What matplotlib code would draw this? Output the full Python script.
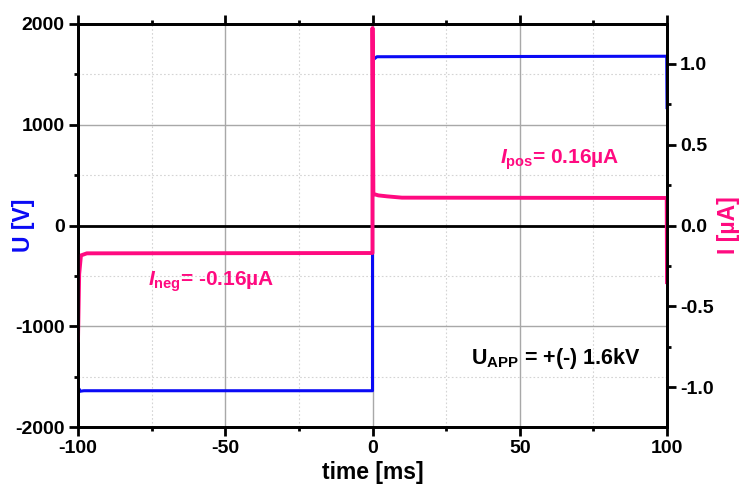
import matplotlib
matplotlib.use("Agg")
import matplotlib.pyplot as plt
from matplotlib.ticker import MultipleLocator

plt.rcParams['font.family'] = ['Liberation Sans', 'DejaVu Sans']
plt.rcParams['font.weight'] = 'bold'
plt.rcParams['axes.unicode_minus'] = False
plt.rcParams['mathtext.fontset'] = 'custom'
plt.rcParams['mathtext.rm'] = 'Liberation Sans:bold'
plt.rcParams['mathtext.bf'] = 'Liberation Sans:bold'
plt.rcParams['mathtext.it'] = 'Liberation Sans:bold:italic'
plt.rcParams['mathtext.default'] = 'it'

# ---- data ----
u_time = [-100.0, -99.7, -99.3, -98.0, 0.0, 0.0, 0.4, 1.5, 99.9, 100.0]
u_volt = [-1720, -1620, -1645, -1640, -1640, 1900, 1650, 1675, 1680, 1170]

i_time = [-100.0, -99.6, -99.0, -97.0, 0.0, 0.0, 0.3, 2.0, 5.0, 10.0, 99.9, 100.0]
i_curr = [-0.71, -0.30, -0.185, -0.172, -0.170, 1.22, 0.195, 0.186, 0.180, 0.172, 0.170, -0.35]

x_ticks = [-100, -50, 0, 50, 100]
u_ticks = [-2000, -1000, 0, 1000, 2000]
i_ticks = [-1.0, -0.5, 0.0, 0.5, 1.0]

BLUE = '#0A0AF5'
PINK = '#FF0A80'

fig = plt.figure(figsize=(7.41, 4.88), dpi=100)
ax = fig.add_axes([78/741, 1-427/488, (667-78)/741, (427-24)/488])
ax2 = ax.twinx()

ax.set_xlim(-100, 100)
ax.set_ylim(-2000, 2000)
ax2.set_ylim(-1.245, 1.245)

ax.xaxis.set_minor_locator(MultipleLocator(25))
ax.yaxis.set_minor_locator(MultipleLocator(500))
ax2.yaxis.set_minor_locator(MultipleLocator(0.25))
ax.set_xticks(x_ticks)
ax.set_yticks(u_ticks)
ax2.set_yticks(i_ticks)
ax2.set_yticklabels([f"{v:.1f}" for v in i_ticks])

ax.grid(True, which='major', color='#A8A8A8', linewidth=1.0)
ax.grid(True, which='minor', color='#D4D4D4', linewidth=0.8, linestyle=(0, (1.5, 2)))
ax.set_axisbelow(True)

ax.axhline(0, color='black', linewidth=2.0, zorder=1.5)

ax.plot(u_time, u_volt, color=BLUE, linewidth=2.2, zorder=2)
ax2.plot(i_time, i_curr, color=PINK, linewidth=2.8, zorder=2)

for a in (ax, ax2):
    for s in a.spines.values():
        s.set_linewidth(2.0)

ax.tick_params(axis='both', which='major', direction='out', length=6.5, width=2,
               labelsize=14, top=True, right=False, pad=3)
ax.tick_params(axis='both', which='minor', direction='out', length=3.2, width=2,
               top=True, right=False)
ax2.tick_params(axis='y', which='major', direction='out', length=6.5, width=2,
                labelsize=14, pad=3)
ax2.tick_params(axis='y', which='minor', direction='out', length=3.2, width=2)

for lbl in ax.get_xticklabels() + ax.get_yticklabels() + ax2.get_yticklabels():
    lbl.set_fontweight('bold')

ax.set_xlabel('time [ms]', fontsize=16.5, fontweight='bold')
ax.xaxis.set_label_coords(0.5, -0.085)
ax.set_ylabel('U [V]', fontsize=16.5, fontweight='bold', color=BLUE)
ax.yaxis.set_label_coords(-0.073, 0.5)
ax2.set_ylabel('I [µA]', fontsize=16.5, fontweight='bold', color=PINK, rotation=90)
ax2.yaxis.set_label_coords(1.085, 0.5)

ax.text(-76.3, -560, r'$I_{\mathbf{neg}}$= -0.16µA', color=PINK, fontsize=15,
        fontweight='bold', va='center', ha='left')
ax2.text(43.3, 0.405, r'$I_{\mathbf{pos}}$= 0.16µA', color=PINK, fontsize=15,
         fontweight='bold', va='center', ha='left')
ax2.text(33.3, -0.82, r'U$_{\mathbf{APP}}$ = +(-) 1.6kV', color='black', fontsize=15.5,
         fontweight='bold', va='center', ha='left')

fig.savefig('out.png', dpi=100)
